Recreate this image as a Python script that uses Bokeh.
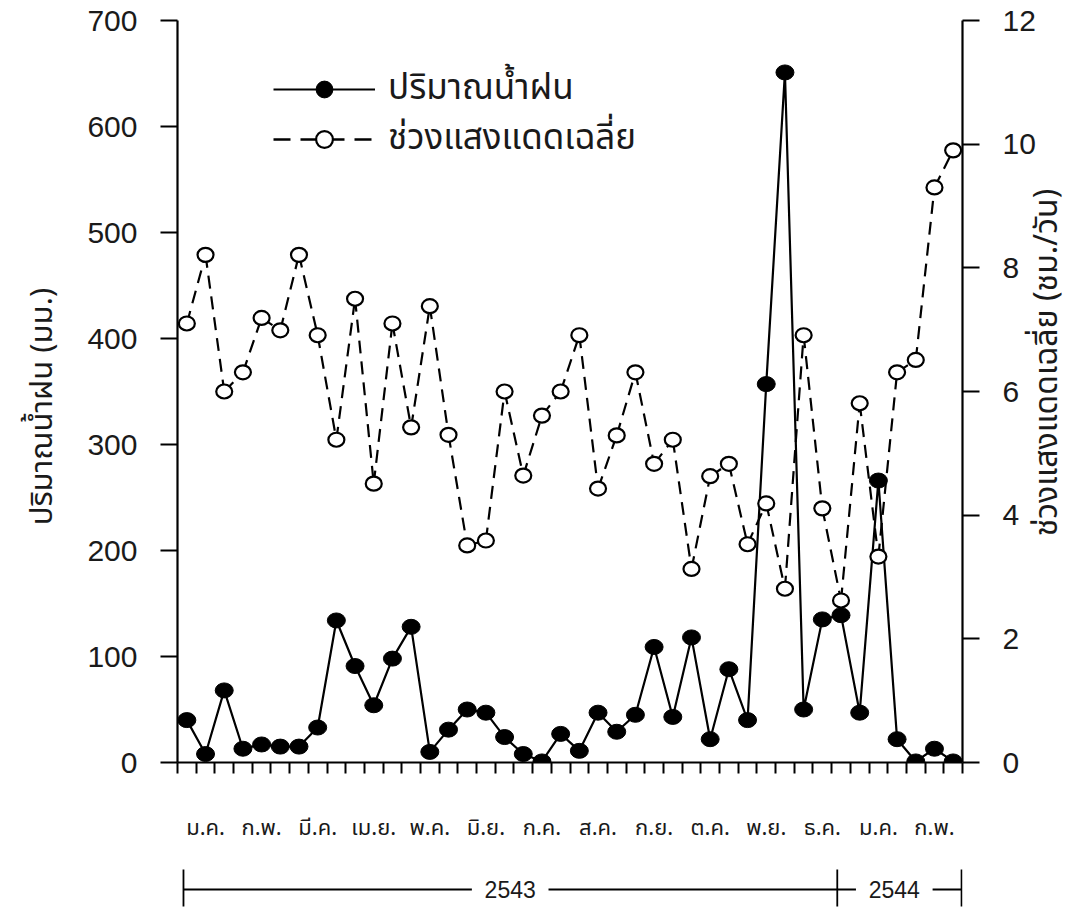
from bokeh.plotting import figure
from bokeh.models import Range1d, LinearAxis, FixedTicker, Legend, LegendItem
from bokeh.layouts import column, row
from bokeh.embed import file_html
from bokeh.resources import INLINE
from bokeh.core.properties import value
import math

# ---- data (10-day periods, Jan 2543 - Feb 2544) ----
rain_mm = [40, 8, 68, 13, 17, 15, 15, 33, 134, 91, 54, 98, 128, 10,
           31, 50, 47, 24, 8, 1, 27, 11, 47, 29, 45, 109, 43, 118,
           22, 88, 40, 357, 651, 50, 135, 139, 47, 266, 22, 1, 13, 1]
sunshine_hr = [7.10, 8.21, 6.00, 6.31, 7.19, 6.99, 8.21, 6.91, 5.22, 7.50,
               4.51, 7.10, 5.42, 7.38, 5.30, 3.51, 3.59, 6.00, 4.64, 5.61,
               6.00, 6.91, 4.43, 5.29, 6.31, 4.83, 5.22, 3.13, 4.63, 4.83,
               3.53, 4.19, 2.81, 6.91, 4.11, 2.62, 5.81, 3.33, 6.31, 6.51,
               9.30, 9.90]
month_labels = ["ม.ค.", "ก.พ.", "มี.ค.", "เม.ย.", "พ.ค.", "มิ.ย.", "ก.ค.",
                "ส.ค.", "ก.ย.", "ต.ค.", "พ.ย.", "ธ.ค.", "ม.ค.", "ก.พ."]
years = ["2543", "2544"]
rain_ticks = [0, 100, 200, 300, 400, 500, 600, 700]
sun_ticks = [0, 2, 4, 6, 8, 10, 12]

rain_label = "ปริมาณน้ำฝน"
sun_label = "ช่วงแสงแดดเฉลี่ย"
left_title = "ปริมาณน้ำฝน (มม.)"
right_title = "ช่วงแสงแดดเฉลี่ย (ชม./วัน)"

# ---- layout constants ----
THAI = "Noto Sans Thai, Noto Sans, sans-serif"
NUM = "Liberation Sans"
INK = "#1a1a1a"
FRAME_W, FRAME_H = 785, 742
TOP, BOTTOM = 20, 20
TL_W = 70                    # narrow left figure holding the left title
TR_W, TR_OVERLAP = 57, 20    # right title figure, overlapping the tick-label border
LEFT = 177 - TL_W            # border left of main frame inside main figure
RIGHT = 76                   # room for right tick labels
STRIP_H = 126
TOTAL_W = TL_W + LEFT + FRAME_W + RIGHT + TR_W - TR_OVERLAP
NAN = float("nan")

n = len(rain_mm)
xs = list(range(n))

p = figure(x_range=Range1d(-0.5, n - 0.5), y_range=Range1d(rain_ticks[0], rain_ticks[-1]),
           frame_width=FRAME_W, frame_height=FRAME_H,
           min_border_left=LEFT, min_border_right=RIGHT,
           min_border_top=TOP, min_border_bottom=BOTTOM,
           x_axis_location=None, y_axis_location=None,
           toolbar_location=None, output_backend="svg")
p.extra_y_ranges = {"sun": Range1d(sun_ticks[0], sun_ticks[-1])}
p.outline_line_color = None
p.grid.visible = False
p.background_fill_color = "white"
p.border_fill_color = "white"

def style_axis(ax, tick_out):
    ax.major_tick_out = tick_out
    ax.major_tick_in = 0
    ax.minor_tick_line_color = None
    ax.major_tick_line_width = 2
    ax.major_tick_line_color = "black"
    ax.axis_line_width = 2.2
    ax.axis_line_color = "black"
    ax.major_label_text_font = NUM
    ax.major_label_text_font_size = "30px"
    ax.major_label_text_color = INK
    ax.major_label_standoff = 23

ax_left = LinearAxis(ticker=FixedTicker(ticks=rain_ticks, minor_ticks=[]))
style_axis(ax_left, 17)
p.add_layout(ax_left, "left")

ax_right = LinearAxis(y_range_name="sun", ticker=FixedTicker(ticks=sun_ticks, minor_ticks=[]))
style_axis(ax_right, 17)
p.add_layout(ax_right, "right")

# bottom axis: only small ticks at the 10-day period boundaries, no labels
ax_bottom = LinearAxis(ticker=FixedTicker(ticks=[], minor_ticks=[i - 0.5 for i in range(n + 1)]))
ax_bottom.axis_line_width = 2.2
ax_bottom.axis_line_color = "black"
ax_bottom.minor_tick_out = 11
ax_bottom.minor_tick_in = 0
ax_bottom.minor_tick_line_width = 2
ax_bottom.minor_tick_line_color = "black"
ax_bottom.major_tick_line_color = None
p.add_layout(ax_bottom, "below")

# series
p.segment(x0=xs[:-1], y0=sunshine_hr[:-1], x1=xs[1:], y1=sunshine_hr[1:],
          y_range_name="sun", line_color="black", line_width=2.2, line_dash="13 8")
p.line(xs, rain_mm, line_color="black", line_width=2.2)
p.ellipse(xs, sunshine_hr, width=16, height=14, width_units="screen", height_units="screen",
          y_range_name="sun", fill_color="white", line_color="black", line_width=2.2)
p.ellipse(xs, rain_mm, width=18, height=15, width_units="screen", height_units="screen",
          fill_color="black", line_color="black")

# legend proxies (NaN data: nothing drawn in the plot)
lr1 = p.line(x=[NAN], y=[NAN], line_color="black", line_width=2.2)
ls1 = p.scatter(x=[NAN], y=[NAN], marker="circle", size=17, fill_color="black", line_color="black")
lr2 = p.line(x=[NAN], y=[NAN], line_color="black", line_width=2.6, line_dash="17 10")
ls2 = p.scatter(x=[NAN], y=[NAN], marker="circle", size=16, fill_color="white",
                line_color="black", line_width=2.2)

def make_legend(label, rends, yb):
    return Legend(items=[LegendItem(label=label, renderers=rends)],
                  location=(96, yb), glyph_width=102, glyph_height=42, spacing=0,
                  padding=0, margin=0, label_standoff=13,
                  label_text_font=THAI, label_text_font_size="35px", label_text_color=INK,
                  border_line_color=None, background_fill_alpha=0)

p.add_layout(make_legend(rain_label, [lr1, ls1], 647))
p.add_layout(make_legend(sun_label, [lr2, ls2], 597))

# ---- side figures holding the rotated axis titles (read bottom-to-top) ----
def title_fig(w, text, tx, ty, size, margin=(0, 0, 0, 0)):
    f = figure(x_range=Range1d(0, w), y_range=Range1d(0, FRAME_H),
               frame_width=w, frame_height=FRAME_H,
               min_border_left=0, min_border_right=0,
               min_border_top=TOP, min_border_bottom=BOTTOM,
               x_axis_location=None, y_axis_location=None,
               toolbar_location=None, output_backend="svg", margin=margin)
    f.outline_line_color = None
    f.grid.visible = False
    f.border_fill_color = None
    f.background_fill_color = None
    f.text(x=[tx], y=[ty], text=[text], angle=math.pi / 2,
           text_align="center", text_baseline="middle",
           text_font=value(THAI), text_font_size=size, text_color=INK)
    return f

tl = title_fig(TL_W, left_title, 42, 356, "31px")
tr = title_fig(TR_W, right_title, 28, 400, "32px", margin=(0, 0, 0, -TR_OVERLAP))

# ---- strip below: month names and year brackets ----
s = figure(x_range=p.x_range, y_range=Range1d(STRIP_H, 0),
           frame_width=FRAME_W, height=STRIP_H,
           min_border_left=TL_W + LEFT, min_border_right=TOTAL_W - TL_W - LEFT - FRAME_W,
           min_border_top=0, min_border_bottom=0,
           x_axis_location=None, y_axis_location=None,
           toolbar_location=None, output_backend="svg")
s.outline_line_color = None
s.grid.visible = False
s.border_fill_color = "white"

month_x = [3 * k + 1 for k in range(len(month_labels))]
s.text(x=month_x, y=[46] * len(month_labels), text=month_labels,
       text_align="center", text_baseline="middle",
       text_font=value(THAI), text_font_size="22px", text_color=INK)

year_bounds = [-0.18, 34.8, 41.45]
year_centers = [17.3, 37.85]
gap = 2.05
hx0, hx1 = [], []
for i in range(len(years)):
    hx0 += [year_bounds[i], year_centers[i] + gap]
    hx1 += [year_centers[i] - gap, year_bounds[i + 1]]
s.segment(x0=hx0, y0=[107] * len(hx0), x1=hx1, y1=[107] * len(hx1),
          line_color="black", line_width=1.8)
s.segment(x0=year_bounds, y0=[87] * 3, x1=year_bounds, y1=[124] * 3,
          line_color="black", line_width=1.8)
s.text(x=year_centers, y=[107] * 2, text=years, text_align="center", text_baseline="middle",
       text_font=value(NUM), text_font_size="23px", text_color=INK)

layout = column(row(tl, p, tr, spacing=0), s, spacing=0)
open("out.html", "w").write(file_html(layout, INLINE))
